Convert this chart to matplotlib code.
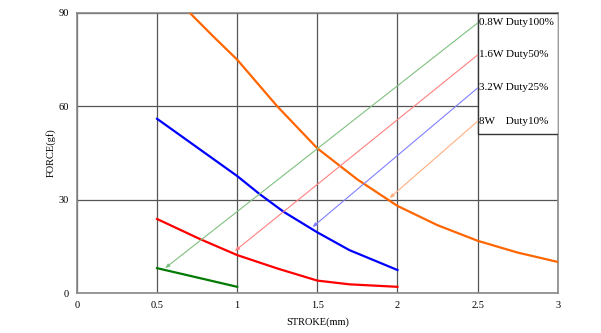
import matplotlib
matplotlib.use("Agg")
import matplotlib.pyplot as plt
import matplotlib.patches as mpatches

# stroke (mm) vs force (gf) for each duty setting
green_x = [0.5, 1.0]
green_y = [8.0, 2.0]

red_x = [0.5, 0.77, 1.0, 1.25, 1.5, 1.7, 2.0]
red_y = [23.8, 17.3, 12.2, 7.9, 4.0, 2.8, 2.0]

blue_x = [0.5, 0.75, 1.0, 1.14, 1.29, 1.5, 1.7, 2.0]
blue_y = [56.0, 46.8, 37.6, 31.8, 26.1, 19.5, 13.8, 7.4]

orange_x = [0.6, 0.705, 0.85, 1.0, 1.25, 1.5, 1.75, 2.0, 2.25, 2.5, 2.75, 3.0]
orange_y = [96.0, 90.0, 82.5, 75.0, 60.0, 46.5, 36.5, 28.0, 21.8, 16.8, 13.0, 10.0]

legend_labels = ["0.8W Duty100%", "1.6W Duty50%", "3.2W Duty25%", "8W    Duty10%"]
legend_y = [86.8, 76.5, 65.9, 55.2]
arrow_targets = [(0.55, 8.0), (0.985, 13.5), (1.47, 21.2), (1.95, 30.5)]

x_ticks = [0, 0.5, 1, 1.5, 2, 2.5, 3]
x_tick_labels = ["0", "0.5", "1", "1.5", "2", "2.5", "3"]
y_ticks = [0, 30, 60, 90]

line_colors = ["#007a00", "#ff0000", "#0000ff", "#ff6600"]
arrow_colors = ["#80c080", "#ff8080", "#8080ff", "#ffb080"]

plt.rcParams["font.family"] = ["Liberation Serif", "DejaVu Serif"]

fig = plt.figure(figsize=(6.01, 3.33), dpi=100)
ax = fig.add_axes([0.128, 0.12, 0.8, 0.841])

ax.set_xlim(0, 3)
ax.set_ylim(0, 90)
ax.set_xticks(x_ticks)
ax.set_xticklabels(x_tick_labels)
ax.set_yticks(y_ticks)
ax.tick_params(length=0, labelsize=7.5, pad=6)
ax.grid(True, color="#555555", linewidth=0.9)
ax.set_axisbelow(True)
for s in ax.spines.values():
    s.set_color("#888888")
    s.set_linewidth(1.2)

ax.set_xlabel("STROKE(mm)", fontsize=7.5, labelpad=5)
ax.set_ylabel("FORCE(gf)", fontsize=7.5, labelpad=2)

series = [(green_x, green_y), (red_x, red_y), (blue_x, blue_y), (orange_x, orange_y)]
for (xs, ys), c in zip(series, line_colors):
    ax.plot(xs, ys, color=c, linewidth=1.6, zorder=3)

# legend box
box = mpatches.Rectangle((2.5, 51.1), 0.5, 38.9, facecolor="white",
                         edgecolor="#333333", linewidth=1.0, zorder=4)
ax.add_patch(box)
for lab, ly in zip(legend_labels, legend_y):
    ax.text(2.508, ly, lab, fontsize=8, va="center", ha="left", zorder=5)

for ly, (tx, ty), c in zip(legend_y, arrow_targets, arrow_colors):
    ax.annotate("", xy=(tx, ty), xytext=(2.5, ly),
                arrowprops=dict(arrowstyle="-|>,head_length=0.25,head_width=0.1",
                                color=c, lw=0.8, shrinkA=0, shrinkB=0),
                zorder=4)

fig.savefig("out.png", dpi=100)
